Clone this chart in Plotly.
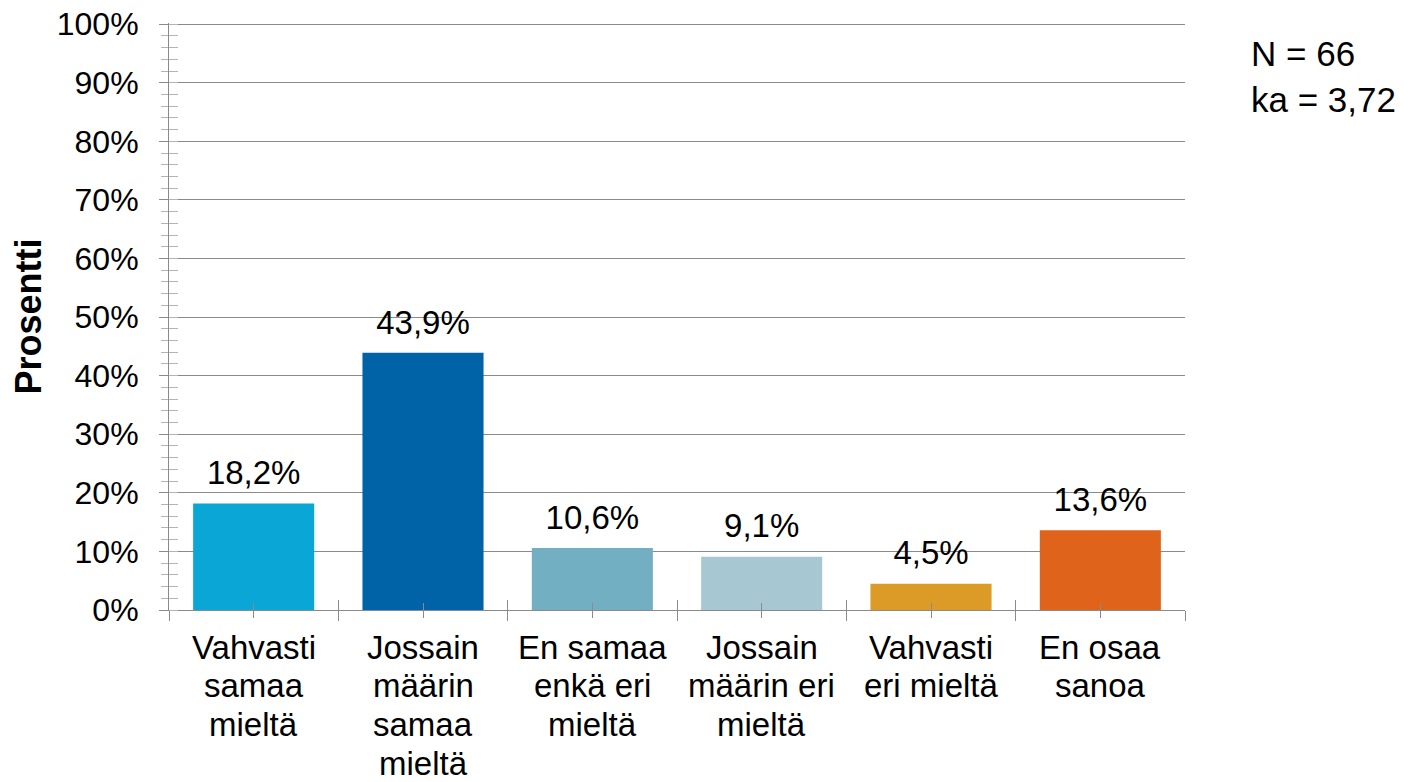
import plotly.graph_objects as go

categories = ["Vahvasti<br>samaa<br>mieltä", "Jossain<br>määrin<br>samaa<br>mieltä",
              "En samaa<br>enkä eri<br>mieltä", "Jossain<br>määrin eri<br>mieltä",
              "Vahvasti<br>eri mieltä", "En osaa<br>sanoa"]
values = [18.2, 43.9, 10.6, 9.1, 4.5, 13.6]
colors = ["#0AA6D6", "#0063A7", "#73AFC2", "#A7C7D3", "#DB9B26", "#E0631B"]
y_ticks = list(range(0, 101, 10))
y_tick_labels = [f"{v}%" for v in y_ticks]
note_text = "N = 66<br>ka = 3,72"

positions = list(range(len(categories)))
FONT = "Liberation Sans, Arial, sans-serif"
GRID = "#8a8a8a"
MINOR = "#b4b4b4"
LABEL_SIZE = 33
LINE_GAP = 38.7
FIRST_LINE = 37

fig = go.Figure()
fig.add_trace(go.Bar(
    x=positions, y=values, marker=dict(color=colors, line=dict(width=0)),
    width=0.715, hoverinfo="skip",
))
# value labels
fig.add_trace(go.Scatter(
    x=positions, y=values, mode="markers+text", texttemplate="%{y:.1f}%",
    textposition="top center", marker=dict(size=16, opacity=0),
    textfont=dict(size=33, color="black", family=FONT), cliponaxis=False,
    hoverinfo="skip", showlegend=False,
))
fig.add_trace(go.Scatter(x=[0], y=[0], xaxis="x2", yaxis="y2", mode="markers",
                         marker=dict(opacity=0), hoverinfo="skip", showlegend=False))

# category labels, one annotation per line (tighter line spacing than plotly's default)
annotations = []
for pos, label in zip(positions, categories):
    for i, line in enumerate(label.split("<br>")):
        annotations.append(dict(
            text=line, x=pos, xref="x", y=0, yref="paper", xanchor="center", yanchor="middle",
            yshift=-(FIRST_LINE + i * LINE_GAP), showarrow=False,
            font=dict(size=LABEL_SIZE, family=FONT, color="black")))
annotations.append(dict(text=note_text, xref="paper", yref="paper", x=1.063, y=0.985,
                        xanchor="left", yanchor="top", align="left", showarrow=False,
                        font=dict(size=35, family=FONT, color="black")))

fig.update_layout(
    width=1421, height=782, separators=", ",
    margin=dict(l=169, r=236, t=23, b=172),
    paper_bgcolor="white", plot_bgcolor="white", showlegend=False,
    font=dict(family=FONT, size=33, color="black"),
    xaxis=dict(range=[-0.5, len(categories) - 0.5], tickvals=positions, showticklabels=False,
               showgrid=False, zeroline=False, showline=True, linecolor=GRID, linewidth=1,
               ticks="outside", ticklen=7, tickcolor=GRID, tickwidth=1, automargin=False,
               minor=dict(tick0=-0.5, dtick=1, ticks="outside", ticklen=10, tickcolor=GRID, showgrid=False)),
    xaxis2=dict(range=[-0.5, len(categories) - 0.5], overlaying="x", anchor="y", side="bottom",
                tickvals=positions, showticklabels=False, showgrid=False, zeroline=False,
                ticks="inside", ticklen=7, tickcolor=GRID, automargin=False,
                minor=dict(tick0=-0.5, dtick=1, ticks="inside", ticklen=10, tickcolor=GRID, showgrid=False)),
    yaxis=dict(range=[0, 100.2], tickvals=y_ticks, ticktext=y_tick_labels, showgrid=True, gridcolor=GRID,
               gridwidth=1, zeroline=False, showline=True, linecolor=GRID, linewidth=1,
               ticks="outside", ticklen=9, tickcolor=GRID, automargin=False,
               ticklabeloverflow="allow",
               minor=dict(dtick=2, ticks="outside", ticklen=7, tickcolor=MINOR, showgrid=False),
               tickfont=dict(size=32, family=FONT), ticklabelstandoff=14,
               title=dict(text="<b>Prosentti</b>", font=dict(size=36, family=FONT), standoff=4)),
    yaxis2=dict(range=[0, 100.2], overlaying="y", anchor="x", side="left", tickvals=y_ticks,
                showticklabels=False, showgrid=False, zeroline=False, ticks="", automargin=False,
                minor=dict(dtick=2, ticks="inside", ticklen=9, tickcolor=MINOR, showgrid=False)),
    annotations=annotations,
)

fig.write_html("out.html", config={"displayModeBar": False},
               post_script="document.body.style.margin='0';")
